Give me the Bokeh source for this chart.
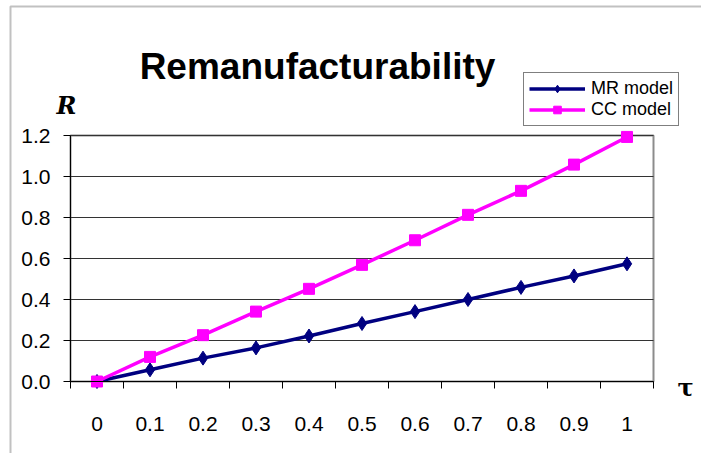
from bokeh.plotting import figure
from bokeh.models import (FixedTicker, Range1d, Label, Legend, LegendItem,
                          BoxAnnotation, PrintfTickFormatter)
from bokeh.embed import file_html
from bokeh.resources import INLINE

# ---- data ----
tau_labels = ["0", "0.1", "0.2", "0.3", "0.4", "0.5", "0.6", "0.7", "0.8", "0.9", "1"]
mr_values = [0.0, 0.057, 0.114, 0.164, 0.222, 0.283, 0.341, 0.400, 0.459, 0.515, 0.574]
cc_values = [0.0, 0.120, 0.226, 0.341, 0.452, 0.569, 0.689, 0.813, 0.930, 1.058, 1.193]
y_ticks = [0.0, 0.2, 0.4, 0.6, 0.8, 1.0, 1.2]
series_names = ["MR model", "CC model"]
title_text = "Remanufacturability"
y_title = "R"
x_title = "τ"

x = list(range(len(tau_labels)))

# ---- layout (pixels) ----
W, H = 701, 453
PA_LEFT, PA_RIGHT, PA_TOP, PA_BOTTOM = 70, 653, 135, 381   # plot-area edges
BORDER_LEFT, BORDER_TOP = 10, 6                              # outer chart frame
FONT = "Liberation Sans"

xmin, xmax = -0.5, len(tau_labels) - 0.5
ymin, ymax = y_ticks[0], y_ticks[-1]
sx = (PA_RIGHT - PA_LEFT) / (xmax - xmin)
sy = (PA_BOTTOM - PA_TOP) / (ymax - ymin)

x_start = xmin - PA_LEFT / sx
x_end = xmax + (W - PA_RIGHT) / sx
y_start = ymin - (H - PA_BOTTOM) / sy
y_end = ymax + PA_TOP / sy

p = figure(width=W, height=H, output_backend="svg", toolbar_location=None,
           x_range=Range1d(x_start, x_end), y_range=Range1d(y_start, y_end),
           min_border=0, min_border_left=0, min_border_right=0,
           min_border_top=0, min_border_bottom=0)
p.title.visible = False
p.background_fill_color = "white"
p.border_fill_color = "white"
p.outline_line_color = None

# outer chart frame (left and top edges visible, the rest runs off the picture)
p.add_layout(BoxAnnotation(left=x_start + BORDER_LEFT / sx, right=x_end + 50 / sx,
                           top=y_end - BORDER_TOP / sy, bottom=y_start - 50 / sy,
                           fill_color=None, line_color="#333333", line_width=2,
                           level="underlay"))

# plot-area box (grey edge at top/right, like the original)
p.quad(left=[xmin], right=[xmax], bottom=[ymin], top=[ymax],
       fill_color=None, line_color="#8c8c8c", line_width=2, level="underlay")

# x axis (category style: labels centred, ticks between categories)
xa = p.xaxis[0]
xa.fixed_location = ymin
xa.bounds = (xmin, xmax)
xa.ticker = FixedTicker(ticks=x, minor_ticks=[i - 0.5 for i in range(len(tau_labels) + 1)])
xa.major_label_overrides = {i: lab for i, lab in zip(x, tau_labels)}
xa.major_tick_line_color = None
xa.major_tick_out = 0
xa.major_tick_in = 0
xa.minor_tick_line_color = "black"
xa.minor_tick_out = 7
xa.minor_tick_in = 0
xa.major_label_standoff = 28
xa.axis_line_color = "black"
xa.major_label_text_font = FONT
xa.major_label_text_font_size = "21px"
xa.major_label_text_color = "black"

ya = p.yaxis[0]
ya.fixed_location = xmin
ya.bounds = (ymin, ymax)
ya.ticker = FixedTicker(ticks=y_ticks)
ya.formatter = PrintfTickFormatter(format="%.1f")
ya.major_tick_out = 7
ya.major_tick_in = 0
ya.major_tick_line_color = "black"
ya.minor_tick_line_color = None
ya.major_label_standoff = 13
ya.axis_line_color = "black"
ya.major_label_text_font = FONT
ya.major_label_text_font_size = "21px"
ya.major_label_text_color = "black"

p.xgrid.visible = False
yg = p.ygrid[0]
yg.ticker = FixedTicker(ticks=y_ticks)
yg.bounds = (ymin, ymax)
if "cross_bounds" in yg.properties():
    yg.cross_bounds = (xmin, xmax)
    yg.grid_line_color = "#333333"
    yg.grid_line_width = 1
else:
    yg.grid_line_color = None
    p.segment(x0=[xmin] * len(y_ticks), x1=[xmax] * len(y_ticks), y0=y_ticks, y1=y_ticks,
              line_color="#333333", line_width=1, level="underlay")

# series
mr_line = p.line(x, mr_values, line_color="#000080", line_width=3.5)
mr_pts = p.scatter(x, mr_values, marker="diamond", size=14,
                   fill_color="#000080", line_color="#000080", line_width=1)
cc_line = p.line(x, cc_values, line_color="#FF00FF", line_width=3.5)
cc_pts = p.scatter(x, cc_values, marker="square", size=11,
                   fill_color="#FF00FF", line_color="#FF00FF")

legend = Legend(items=[LegendItem(label=series_names[0], renderers=[mr_line, mr_pts]),
                       LegendItem(label=series_names[1], renderers=[cc_line, cc_pts])],
                location=(523, H - 126))
legend.border_line_color = "black"
legend.border_line_width = 1
legend.background_fill_color = "white"
legend.background_fill_alpha = 1
legend.label_text_font = FONT
legend.label_text_font_size = "18px"
legend.label_text_color = "black"
legend.glyph_width = 56
legend.glyph_height = 19
legend.label_height = 19
legend.spacing = 0
legend.padding = 5
legend.margin = 0
legend.label_standoff = 6
p.add_layout(legend)

# title and axis titles (screen units from bottom-left of canvas)
p.add_layout(Label(x=317, y=H - 66, x_units="screen", y_units="screen", text=title_text,
                   text_font=FONT, text_font_style="bold", text_font_size="37px",
                   text_align="center", text_baseline="alphabetic", text_color="black"))
p.add_layout(Label(x=66, y=H - 105, x_units="screen", y_units="screen", text=y_title,
                   text_font="DejaVu Serif", text_font_style="bold italic",
                   text_font_size="24px", text_align="center",
                   text_baseline="alphabetic", text_color="black"))
p.add_layout(Label(x=685, y=H - 387, x_units="screen", y_units="screen", text=x_title,
                   text_font="DejaVu Serif", text_font_style="bold",
                   text_font_size="24px", text_align="center",
                   text_baseline="alphabetic", text_color="black"))

open("out.html", "w").write(file_html(p, INLINE))
